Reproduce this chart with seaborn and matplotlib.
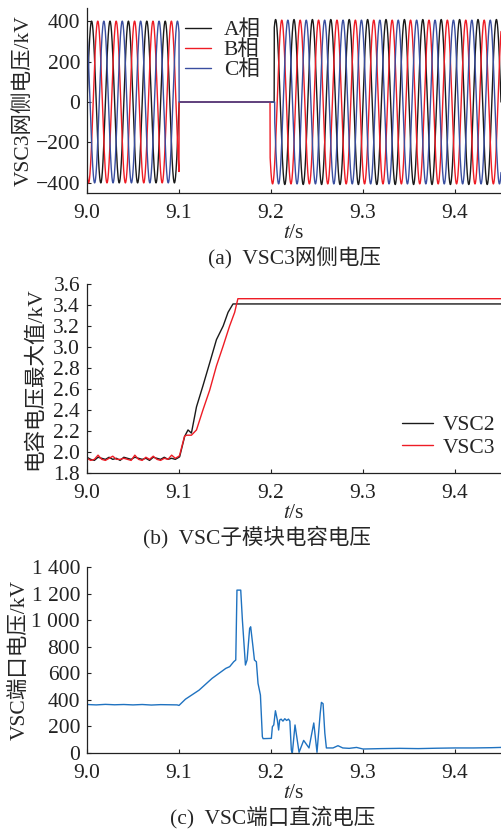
import numpy as np
import pandas as pd
import matplotlib
matplotlib.use('Agg')
import matplotlib.pyplot as plt
import seaborn as sns

# (a) VSC3 网侧电压: 50 Hz 三相电压, 9.1~9.2 s 之间为零
phase_labels = ['A相', 'B相', 'C相']
phase_colors = ['#1a1a1a', '#ee1c25', '#3a4ea0']
freq_hz = 50
amp_before = [400, 400, 400]
amp_after = [408, 405, 405]
peak_offset = [0.005, 0.0117, 0.0183]   # 各相第一个峰值相对 9.0 s 的时刻
stop_time = [9.100, 9.100, 9.100]
restart_time = [9.2035, 9.199, 9.204]

# (b) 子模块电容电压最大值
cap_t_early = [9.000, 9.004, 9.008, 9.012, 9.016, 9.020, 9.024, 9.028, 9.032, 9.036,
               9.040, 9.044, 9.048, 9.052, 9.056, 9.060, 9.064, 9.068, 9.072, 9.076,
               9.080, 9.084, 9.088, 9.092, 9.096, 9.100]
vsc2_early = [1.95, 1.93, 1.92, 1.95, 1.94, 1.93, 1.95, 1.93, 1.94, 1.92,
              1.95, 1.94, 1.93, 1.95, 1.94, 1.93, 1.94, 1.92, 1.95, 1.94,
              1.93, 1.95, 1.93, 1.94, 1.93, 1.95]
vsc3_early = [1.94, 1.92, 1.93, 1.97, 1.93, 1.92, 1.94, 1.96, 1.93, 1.93,
              1.94, 1.93, 1.92, 1.97, 1.93, 1.92, 1.95, 1.93, 1.96, 1.93,
              1.92, 1.94, 1.93, 1.97, 1.94, 1.96]
vsc2_t_rise = [9.1007, 9.1062, 9.1098, 9.1135, 9.119, 9.126, 9.1334, 9.1407, 9.148,
               9.1533, 9.1587, 9.45]
vsc2_rise = [1.955, 2.15, 2.21, 2.18, 2.43, 2.63, 2.85, 3.07, 3.2, 3.33, 3.41, 3.41]
vsc3_t_rise = [9.1007, 9.106, 9.108, 9.1135, 9.119, 9.126, 9.1334, 9.1407, 9.148,
               9.155, 9.1605, 9.164, 9.45]
vsc3_rise = [1.97, 2.15, 2.16, 2.16, 2.21, 2.4, 2.59, 2.82, 3.01, 3.2, 3.33, 3.46, 3.46]

# (c) VSC 端口直流电压
dc_t = [9.000, 9.010, 9.020, 9.030, 9.040, 9.050, 9.060, 9.070, 9.080, 9.090, 9.098,
        9.100, 9.107, 9.1218, 9.136, 9.1509, 9.1551, 9.1595, 9.1617, 9.163, 9.1671,
        9.1689, 9.1722, 9.174, 9.1768, 9.1779, 9.1804, 9.182, 9.1841, 9.1859, 9.1885,
        9.1906, 9.1914, 9.2004, 9.2015, 9.203, 9.2048, 9.2069, 9.2083, 9.2094, 9.211,
        9.213, 9.215, 9.217, 9.219, 9.2205, 9.2221, 9.2232, 9.2261, 9.2305, 9.2355,
        9.2413, 9.2465, 9.2500, 9.2535, 9.2548, 9.2566, 9.2585, 9.2602, 9.2674, 9.2728,
        9.278, 9.285, 9.293, 9.300, 9.320, 9.340, 9.360, 9.380, 9.400, 9.420, 9.440, 9.450]
dc_v = [365, 362, 366, 363, 365, 362, 365, 361, 364, 363, 362,
        358, 405, 473, 562, 637, 650, 687, 700, 1226, 1226,
        1001, 662, 700, 938, 950, 800, 700, 687, 524, 436,
        123, 108, 110, 198, 211, 318, 248, 173, 248, 255,
        240, 258, 245, 255, 240, 23, 0, 211, 5, 95,
        38, 226, 5, 300, 381, 371, 150, 38, 38, 55,
        38, 35, 42, 30, 33, 35, 33, 36, 38, 38, 40, 42]

sns.set_style('ticks')
plt.rcParams['font.family'] = ['Liberation Serif', 'Noto Sans CJK SC']
plt.rcParams['mathtext.fontset'] = 'stix'
plt.rcParams['axes.unicode_minus'] = True
fs = 15.5
plt.rcParams['font.size'] = fs

fig = plt.figure(figsize=(5.01, 8.30), dpi=100)
W, H = 501, 830


def make_ax(left, top, right, bottom):
    return fig.add_axes([left / W, 1 - bottom / H, (right - left) / W, (bottom - top) / H])


ax_a = make_ax(87, 8, 501, 193)
ax_b = make_ax(87, 284, 501, 473)
ax_c = make_ax(87, 567, 501, 753)

# (a)
t = np.linspace(9.0, 9.45, 6000)
for i in range(3):
    wave = np.cos(2 * np.pi * freq_hz * (t - 9.0 - peak_offset[i]))
    v = np.where(t < stop_time[i], amp_before[i] * wave, 0.0)
    v = np.where(t >= restart_time[i], amp_after[i] * wave, v)
    sns.lineplot(x=t, y=v, ax=ax_a, color=phase_colors[i], lw=1.0,
                 label=phase_labels[i], estimator=None, sort=False)
ax_a.set_ylim(-450, 465)
ax_a.set_yticks([-400, -200, 0, 200, 400])
ax_a.set_ylabel('VSC3网侧电压/kV', fontsize=fs, labelpad=1)
ax_a.legend(loc='upper left', bbox_to_anchor=(0.237, 0.935), frameon=False,
            borderaxespad=0, borderpad=0, handlelength=1.2, handletextpad=0.6,
            labelspacing=0.0, fontsize=fs)

# (b)
b2 = pd.DataFrame({'t': cap_t_early + vsc2_t_rise, 'v': vsc2_early + vsc2_rise})
b3 = pd.DataFrame({'t': cap_t_early + vsc3_t_rise, 'v': vsc3_early + vsc3_rise})
sns.lineplot(data=b2, x='t', y='v', ax=ax_b, color='#1a1a1a', lw=1.0, label='VSC2',
             estimator=None, sort=False)
sns.lineplot(data=b3, x='t', y='v', ax=ax_b, color='#ee1c25', lw=1.0, label='VSC3',
             estimator=None, sort=False)
ax_b.set_ylim(1.8, 3.6)
ax_b.set_yticks(np.arange(1.8, 3.61, 0.2))
ax_b.set_yticklabels([f'{y:.1f}' for y in np.arange(1.8, 3.61, 0.2)])
ax_b.set_ylabel('电容电压最大值/kV', fontsize=fs, labelpad=6)
ax_b.legend(loc='upper left', bbox_to_anchor=(0.762, 0.305), frameon=False,
            borderaxespad=0, borderpad=0, handlelength=1.4, handletextpad=0.45,
            labelspacing=0.1, fontsize=fs)

# (c)
sns.lineplot(x=dc_t, y=dc_v, ax=ax_c, color='#1f72c0', lw=1.0, estimator=None, sort=False)
ax_c.set_ylim(0, 1400)
ax_c.set_yticks(range(0, 1401, 200))
ax_c.set_yticklabels(['0', '200', '400', '600', '800', '1 000', '1 200', '1 400'])
ax_c.set_ylabel('VSC端口电压/kV', fontsize=fs, labelpad=1)

for ax in (ax_a, ax_b, ax_c):
    ax.set_xlim(9.0, 9.45)
    ax.set_xticks([9.0, 9.1, 9.2, 9.3, 9.4])
    ax.set_xticklabels(['9.0', '9.1', '9.2', '9.3', '9.4'])
    ax.set_xlabel('$t$/s', fontsize=fs, labelpad=0.5)
    ax.tick_params(direction='in', length=3, width=0.8, labelsize=fs, colors='#222222')
    ax.tick_params(axis='x', pad=8)
    ax.tick_params(axis='y', pad=5)
    sns.despine(ax=ax)
    for s in ('left', 'bottom'):
        ax.spines[s].set_color('#222222')
        ax.spines[s].set_linewidth(0.9)

fig.text(294 / W, 1 - 258 / H, '(a)  VSC3网侧电压', ha='center', va='center', fontsize=fs)
fig.text(257 / W, 1 - 537 / H, '(b)  VSC子模块电容电压', ha='center', va='center', fontsize=fs)
fig.text(273 / W, 1 - 817 / H, '(c)  VSC端口直流电压', ha='center', va='center', fontsize=fs)

fig.savefig('out.png', dpi=100)
